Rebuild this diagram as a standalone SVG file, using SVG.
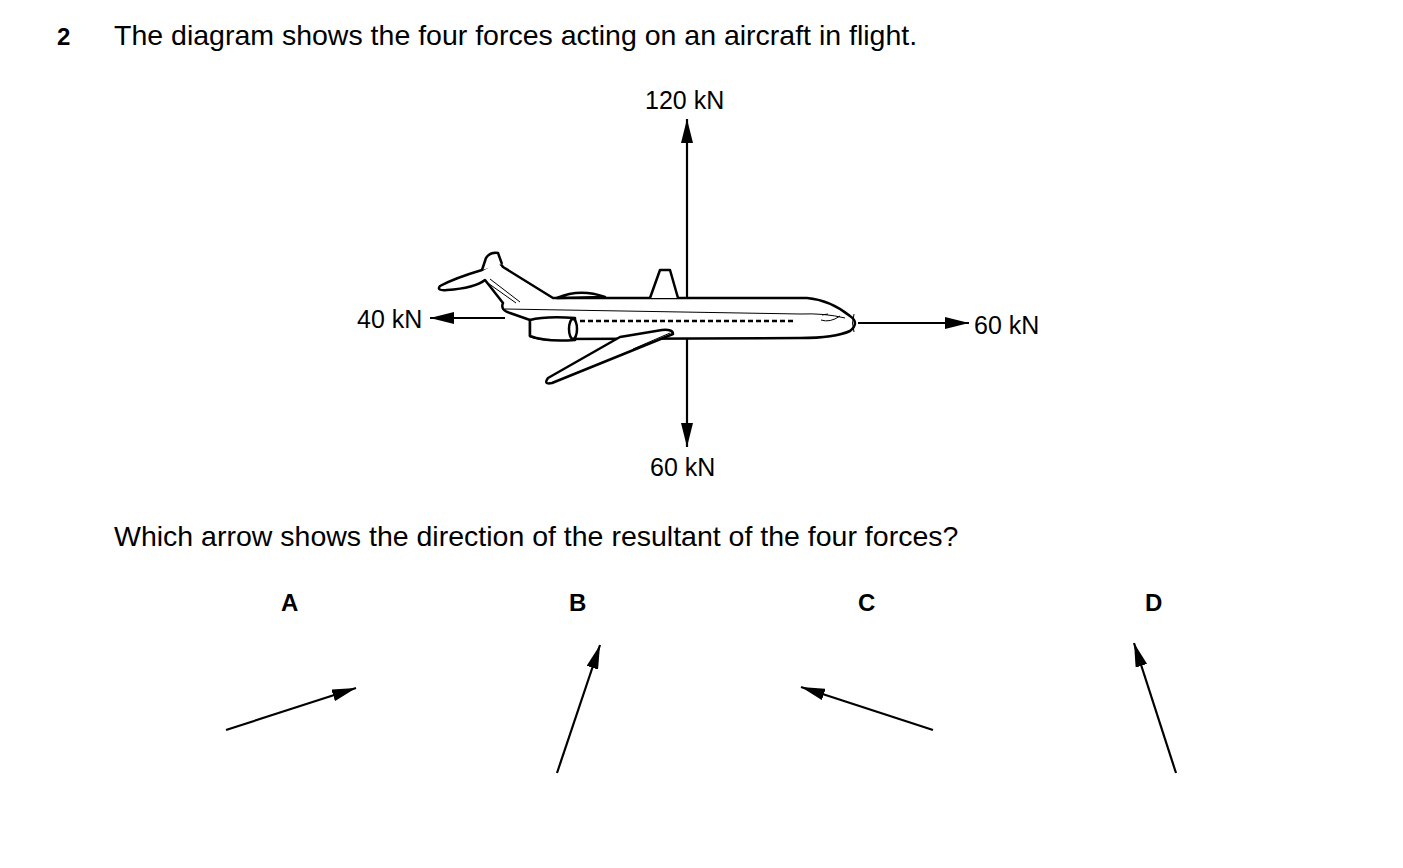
<svg xmlns="http://www.w3.org/2000/svg" width="1403" height="868" viewBox="0 0 1403 868">
<style>
text{font-family:"Liberation Sans",Arial,sans-serif;fill:#000}
.q{font-size:28.5px}
.l{font-size:25px}
.b{font-size:24px;font-weight:bold}
.ln{stroke:#000;stroke-width:2.2;fill:none}
.pl{stroke:#000;stroke-width:2.5;fill:#fff;stroke-linejoin:round}
.th{stroke:#000;stroke-width:1;fill:none}
</style>
<defs>
<marker id="ah2" viewBox="0 0 10 10" refX="10" refY="5" markerWidth="24" markerHeight="12" markerUnits="userSpaceOnUse" orient="auto" preserveAspectRatio="none">
<path d="M0,0 L10,5 L0,10 z" fill="#000"/>
</marker>
</defs>
<rect width="1403" height="868" fill="#fff"/>
<text x="57" y="45" class="b">2</text>
<text x="114" y="45" class="q">The diagram shows the four forces acting on an aircraft in flight.</text>
<g id="aircraft">
<path class="pl" d="M553,298 L503,267 Q500,262 495,263 L482,270 Q455,278 440,286 Q436,291 447,290 Q475,288 485,280 L503,303 Q500,310 510,313 L530,320 L530,336 Q540,340 560,339 L800,338 Q835,338 850,331 Q860,323 850,316 Q830,300 807,298 Z"/>
<path class="pl" d="M482,270 L486,258 Q490,252 498,253 L502,264"/>
<path class="pl" d="M557,298 Q580,288 605,297 Z"/>
<path class="pl" d="M650,298 L660,270 L670,270 L678,298"/>
<path class="pl" d="M530,320 Q545,316 575,318 L575,340 Q545,342 530,336 Z"/>
<ellipse cx="573" cy="329" rx="4" ry="10" class="pl" stroke-width="2"/>
<path class="pl" d="M620,337 L548,378 Q543,385 552,383 L673,334 Q673,329 662,330 Z"/>
<path class="th" d="M485,281 L516,303 M490,279 L520,302 M633,349 L670,333"/>
<path class="th" d="M505,309 L800,314 Q825,313 845,318"/>
<path d="M580,321 L795,321" stroke="#000" stroke-width="2.5" stroke-dasharray="5,3"/>
<path class="th" stroke-width="2" d="M822,315 L828,314 M821,320 Q830,323 840,316"/>
<path class="th" d="M854,314 Q851,323 854,332"/>
</g>
<g id="connectors">
<line class="ln" x1="687" y1="298" x2="687" y2="119" marker-end="url(#ah2)"/>
<line class="ln" x1="687" y1="338" x2="687" y2="447" marker-end="url(#ah2)"/>
<line class="ln" x1="505" y1="318" x2="430" y2="318" marker-end="url(#ah2)"/>
<line class="ln" x1="858" y1="323" x2="969" y2="323" marker-end="url(#ah2)"/>
</g>
<text x="645" y="109" class="l">120 kN</text>
<text x="357" y="328" class="l">40 kN</text>
<text x="974" y="334" class="l">60 kN</text>
<text x="650" y="476" class="l">60 kN</text>
<text x="114" y="546" class="q">Which arrow shows the direction of the resultant of the four forces?</text>
<g id="A"><text x="281" y="611" class="b">A</text><line class="ln" x1="226" y1="730" x2="356" y2="688" marker-end="url(#ah2)"/></g>
<g id="B"><text x="569" y="611" class="b">B</text><line class="ln" x1="557" y1="773" x2="600" y2="645" marker-end="url(#ah2)"/></g>
<g id="C"><text x="858" y="611" class="b">C</text><line class="ln" x1="933" y1="730" x2="801" y2="687" marker-end="url(#ah2)"/></g>
<g id="D"><text x="1145" y="611" class="b">D</text><line class="ln" x1="1176" y1="773" x2="1134" y2="643" marker-end="url(#ah2)"/></g>
</svg>
